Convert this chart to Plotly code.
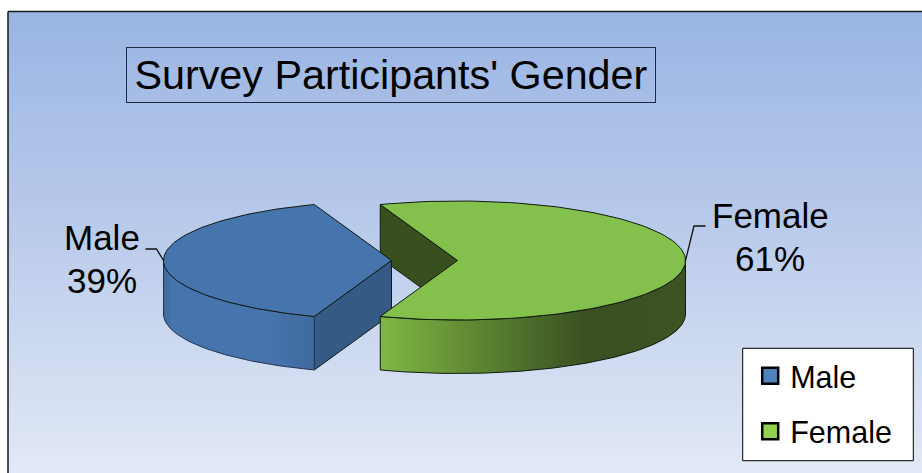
import numpy as np
import plotly.graph_objects as go

TITLE = "Survey Participants' Gender"
CATEGORIES = ["Male", "Female"]
SHARES = [39, 61]
TOP_COLORS = ["#4674ad", "#84c04c"]
LEGEND_COLORS = ["#4f81bd", "#92d050"]

A, B, DEPTH = 228.0, 59.5, 53.5
CY = 260.5
MALE_CX, FEMALE_CX = 391.5, 457.5
FONT = "Liberation Sans"
OUTLINE = "#101a10"

half_m = SHARES[0] / sum(SHARES) * 180.0
half_f = SHARES[1] / sum(SHARES) * 180.0


def arc(cx, t0, t1, dy=0.0, n=120):
    t = np.radians(np.linspace(t0, t1, n))
    return cx + A * np.cos(t), CY + dy - B * np.sin(t)


def poly(x, y, color=None, grad=None, line=OUTLINE, width=1.0):
    kw = dict(x=list(x), y=list(y), mode="lines", fill="toself", hoverinfo="skip",
              showlegend=False, line=dict(color=line, width=width))
    if grad is not None:
        kw["fillgradient"] = grad
    else:
        kw["fillcolor"] = color
    return go.Scatter(**kw)


fig = go.Figure()

# background panel (right and bottom edges run off the page)
fig.add_trace(poly([8, 935, 935, 8, 8], [11.5, 11.5, 485, 485, 11.5],
                   grad=dict(type="vertical", start=11, stop=473,
                             colorscale=[[0, "#9ab5e3"], [0.4, "#b4c7e9"], [1, "#e2e9f6"]]),
                   line="#1a1a1a", width=1.5))

# female inner wedge wall
ex = FEMALE_CX + A * np.cos(np.radians(half_f))
ey = CY - B * np.sin(np.radians(half_f))
fig.add_trace(poly([ex, FEMALE_CX, FEMALE_CX, ex, ex],
                   [ey, CY, CY + DEPTH, ey + DEPTH, ey], color="#3a4f1e"))

# male right wall
mx = MALE_CX + A * np.cos(np.radians(180 + half_m))
my = CY - B * np.sin(np.radians(180 + half_m))
fig.add_trace(poly([MALE_CX, mx, mx, MALE_CX, MALE_CX],
                   [CY, my, my + DEPTH, CY + DEPTH, CY], color="#365a86"))

# male outer wall
x1, y1 = arc(MALE_CX, 180, 180 + half_m)
x2, y2 = arc(MALE_CX, 180 + half_m, 180, DEPTH)
fig.add_trace(poly(np.r_[x1, x2, x1[0]], np.r_[y1, y2, y1[0]],
                   grad=dict(type="horizontal", start=163, stop=314,
                             colorscale=[[0, "#3f6899"], [0.06, "#4674ad"], [0.7, "#4674ad"], [1, "#3f6a9e"]]),
                   line="#24364f"))

# male top
x, y = arc(MALE_CX, 180 - half_m, 180 + half_m)
fig.add_trace(poly(np.r_[MALE_CX, x, MALE_CX], np.r_[CY, y, CY], color=TOP_COLORS[0]))

# female outer wall
x1, y1 = arc(FEMALE_CX, -half_f, 0)
x2, y2 = arc(FEMALE_CX, 0, -half_f, DEPTH)
fig.add_trace(poly(np.r_[x1, x2, x1[0]], np.r_[y1, y2, y1[0]],
                   grad=dict(type="horizontal", start=380, stop=686,
                             colorscale=[[0, "#7fb845"], [0.28, "#628c34"], [0.5, "#496a2a"],
                                         [0.68, "#3b4f20"], [1, "#3d5322"]])))

# female top
x, y = arc(FEMALE_CX, -half_f, half_f)
fig.add_trace(poly(np.r_[FEMALE_CX, x, FEMALE_CX], np.r_[CY, y, CY], color=TOP_COLORS[1]))

# leader lines
left = MALE_CX - A
right = FEMALE_CX + A
fig.add_trace(go.Scatter(x=[left, left - 7, left - 18], y=[CY, CY - 11.5, CY - 11.5], mode="lines",
                         line=dict(color="#111", width=1.3), hoverinfo="skip", showlegend=False))
fig.add_trace(go.Scatter(x=[right, right + 8.5, right + 20], y=[CY, CY - 34.5, CY - 34.5], mode="lines",
                         line=dict(color="#111", width=1.3), hoverinfo="skip", showlegend=False))

# legend frame
fig.add_trace(poly([742.7, 913.3, 913.3, 742.7, 742.7], [348.3, 348.3, 460.7, 460.7, 348.3],
                   color="white", line="black", width=1.0))

# legend entries
for cat, col in zip(CATEGORIES, LEGEND_COLORS):
    fig.add_trace(go.Scatter(x=[None], y=[None], mode="markers", name=cat, legendgroup=cat,
                             marker=dict(symbol="square", size=16, color=col,
                                         line=dict(color="black", width=2.5))))

# labels
for txt, xp, yp in [(CATEGORIES[0], 102, 237), (f"{SHARES[0]}%", 102, 280),
                    (CATEGORIES[1], 770, 215), (f"{SHARES[1]}%", 770, 258)]:
    fig.add_annotation(x=xp, y=yp, xref="x", yref="y", showarrow=False, text=txt,
                       font=dict(family=FONT, size=35, color="black"))
# title
fig.add_annotation(x=391, y=74.5, xref="x", yref="y", showarrow=False, text=TITLE,
                   width=528, height=54, bordercolor="#1c2b44", borderwidth=1, borderpad=0,
                   font=dict(family=FONT, size=41.3, color="black"))

fig.update_layout(
    width=922, height=473, autosize=False, margin=dict(l=0, r=0, t=0, b=0),
    paper_bgcolor="white", plot_bgcolor="white",
    xaxis=dict(range=[0, 922], visible=False, fixedrange=True),
    yaxis=dict(range=[473, 0], visible=False, fixedrange=True),
    legend=dict(x=750.2 / 922, y=1 - 349.3 / 473, xanchor="left", yanchor="top",
                bgcolor="rgba(0,0,0,0)", borderwidth=0,
                font=dict(family=FONT, size=30.5, color="black"),
                tracegroupgap=13, itemwidth=30, traceorder="grouped"),
)

fig.write_html("out.html", config={"displayModeBar": False},
               post_script="document.body.style.margin='0';")
